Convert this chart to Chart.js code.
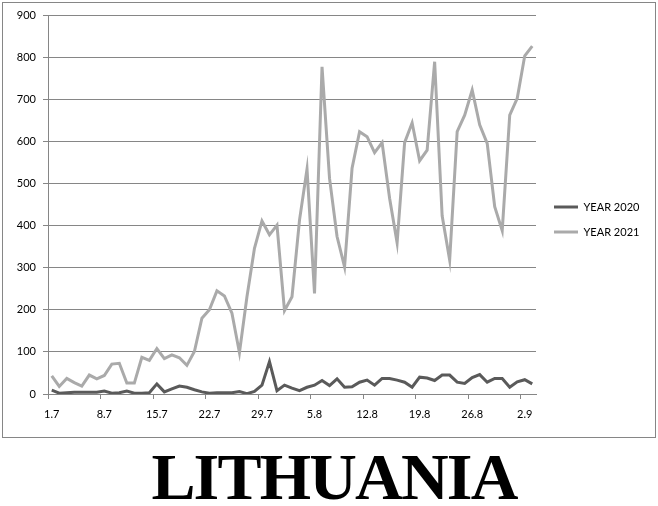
<!DOCTYPE html>
<html lang="en">
<head>
    <meta charset="UTF-8">
    <title>Lithuania</title>
    <script src="https://cdn.jsdelivr.net/npm/chart.js"></script>
    <style>
        body {
            margin: 0;
            width: 658px;
            height: 506px;
            background: #fff;
            position: relative;
            overflow: hidden;
        }
        .frame {
            position: absolute;
            left: 2px;
            top: 2px;
            width: 654px;
            height: 436px;
            box-sizing: border-box;
            border: 1px solid #868686;
        }
        .chart-container {
            position: absolute;
            left: 0;
            top: 0;
            width: 658px;
            height: 440px;
        }
        .big-title {
            position: absolute;
            left: 5px;
            top: 444px;
            width: 658px;
            text-align: center;
            font-family: "Liberation Serif", serif;
            font-weight: bold;
            font-size: 66px;
            line-height: 66px;
            letter-spacing: -1.8px;
            color: #000;
        }
    </style>
</head>
<body>
    <div class="frame"></div>
    <div class="chart-container">
        <canvas id="lineChart" width="658" height="440"></canvas>
    </div>
    <div class="big-title">LITHUANIA</div>

    <script>
        // days from 1 July to 3 September
        const days = [
            '1.7', '2.7', '3.7', '4.7', '5.7', '6.7', '7.7', '8.7', '9.7', '10.7',
            '11.7', '12.7', '13.7', '14.7', '15.7', '16.7', '17.7', '18.7', '19.7', '20.7',
            '21.7', '22.7', '23.7', '24.7', '25.7', '26.7', '27.7', '28.7', '29.7', '30.7',
            '31.7', '1.8', '2.8', '3.8', '4.8', '5.8', '6.8', '7.8', '8.8', '9.8',
            '10.8', '11.8', '12.8', '13.8', '14.8', '15.8', '16.8', '17.8', '18.8', '19.8',
            '20.8', '21.8', '22.8', '23.8', '24.8', '25.8', '26.8', '27.8', '28.8', '29.8',
            '30.8', '31.8', '1.9', '2.9', '3.9'
        ];

        const year2020 = [
            9, 2, 3, 4, 4, 4, 4, 7, 2, 3,
            7, 2, 2, 3, 24, 5, 12, 19, 16, 10,
            5, 2, 3, 3, 3, 6, 1, 6, 21, 77,
            8, 21, 14, 8, 16, 21, 32, 20, 36, 16,
            17, 28, 33, 21, 37, 37, 33, 28, 16, 40,
            38, 32, 45, 45, 28, 25, 39, 46, 28, 37,
            37, 16, 29, 34, 24
        ];

        const year2021 = [
            43, 18, 37, 27, 19, 45, 36, 44, 71, 73,
            26, 26, 87, 80, 108, 84, 93, 86, 68, 101,
            180, 200, 245, 233, 192, 98, 231, 346, 411, 378,
            401, 198, 231, 413, 534, 239, 777, 512, 374, 302,
            536, 623, 611, 573, 597, 465, 359, 597, 644, 554,
            579, 789, 423, 318, 623, 662, 722, 639, 595, 445,
            388, 662, 702, 803, 826
        ];

        const seriesNames = ['YEAR 2020', 'YEAR 2021'];
        const seriesColors = ['#5a5a5a', '#aaaaaa'];

        const gridColor = '#868686';
        const labelFont = { family: 'Lato', size: 11 };

        // legend sits in a fixed column right of the plot, nudged like Excel's
        const legendPlacer = {
            id: 'legendPlacer',
            beforeLayout(chart) {
                const lg = chart.legend;
                if (lg && !lg._patched) {
                    const fit = lg.fit;
                    lg.fit = function () {
                        fit.call(this);
                        this.width = 122;
                    };
                    lg._patched = true;
                }
            },
            afterLayout(chart) {
                const lg = chart.legend;
                lg.left += 4; lg.right += 4;
                lg.top -= 8; lg.bottom -= 8;
            }
        };

        const ctx = document.getElementById('lineChart').getContext('2d');
        const lineChart = new Chart(ctx, {
            type: 'line',
            data: {
                labels: days,
                datasets: [
                    {
                        label: seriesNames[0],
                        data: year2020,
                        borderColor: seriesColors[0],
                        backgroundColor: seriesColors[0],
                        borderWidth: 3,
                        pointRadius: 0,
                        tension: 0,
                        fill: false
                    },
                    {
                        label: seriesNames[1],
                        data: year2021,
                        borderColor: seriesColors[1],
                        backgroundColor: seriesColors[1],
                        borderWidth: 3,
                        pointRadius: 0,
                        tension: 0,
                        fill: false
                    }
                ]
            },
            options: {
                responsive: false,
                animation: false,
                devicePixelRatio: 1,
                layout: { padding: { top: 15, left: 0, right: 0, bottom: 0 } },
                scales: {
                    x: {
                        offset: true,
                        afterFit(scale) { scale.height = 46; },
                        grid: {
                            offset: true,
                            drawOnChartArea: false,
                            drawTicks: true,
                            tickLength: 5,
                            tickColor: c => (c.index % 7 === 0 ? gridColor : 'rgba(0,0,0,0)')
                        },
                        border: { color: gridColor, width: 1 },
                        ticks: {
                            autoSkip: false,
                            maxRotation: 0,
                            padding: 9,
                            color: '#000',
                            font: labelFont,
                            callback: function (value, index) {
                                return index % 7 === 0 ? this.getLabelForValue(value) : '';
                            }
                        }
                    },
                    y: {
                        min: 0,
                        max: 900,
                        afterFit(scale) { scale.width = 48; },
                        grid: {
                            color: gridColor,
                            tickColor: gridColor,
                            tickLength: 5,
                            lineWidth: 1
                        },
                        border: { color: gridColor, width: 1 },
                        ticks: {
                            stepSize: 100,
                            padding: 7,
                            color: '#000',
                            font: labelFont
                        }
                    }
                },
                plugins: {
                    legend: {
                        position: 'right',
                        labels: {
                            boxWidth: 24,
                            boxHeight: 3,
                            padding: 14,
                            color: '#000',
                            font: labelFont,
                            generateLabels: chart =>
                                Chart.defaults.plugins.legend.labels.generateLabels(chart).map(item => ({
                                    ...item,
                                    fillStyle: item.strokeStyle,
                                    lineWidth: 0
                                }))
                        }
                    },
                    tooltip: { enabled: false }
                }
            },
            plugins: [legendPlacer]
        });
    </script>
</body>
</html>
